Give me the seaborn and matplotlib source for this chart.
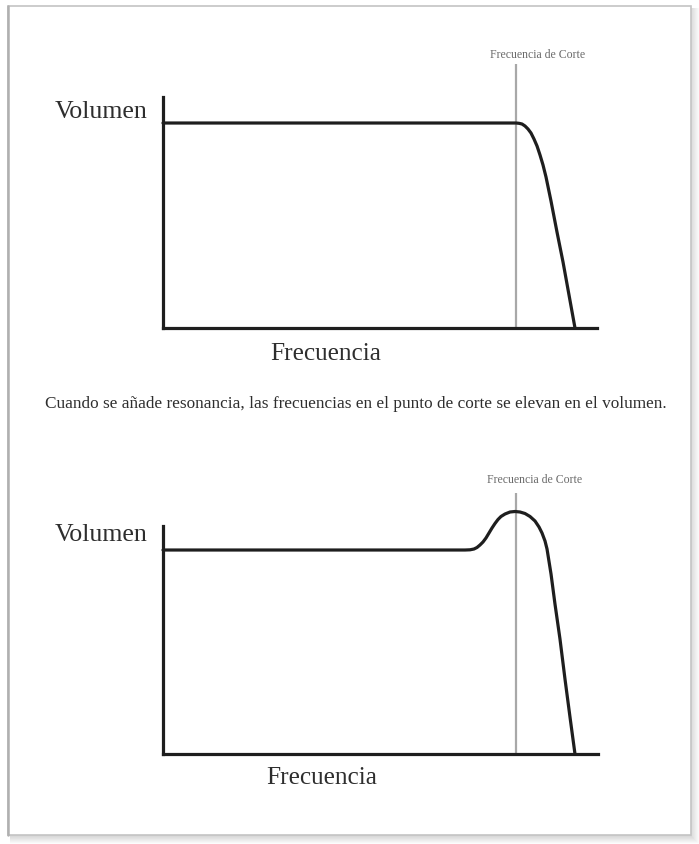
import matplotlib
matplotlib.use("Agg")
import matplotlib.pyplot as plt
from matplotlib.patches import Rectangle
import numpy as np
import pandas as pd
import seaborn as sns

# Low-pass response without resonance (frequency and volume on 0-100 scales)
freq_plain = [0, 81.34, 82.03, 82.72, 83.41, 84.10, 84.79, 85.48, 86.18, 86.87, 87.56, 88.25,
              89.40, 90.78, 92.17, 93.55, 94.93]
vol_plain = [88.74, 88.74, 88.61, 88.31, 87.45, 86.15, 84.42, 81.82, 78.79, 74.89, 70.56, 65.37,
             54.98, 41.56, 28.57, 14.29, 0]

# Low-pass response with resonance bump at the cutoff
freq_reso = [0, 69.43, 70.57, 71.49, 72.18, 72.87, 73.56, 74.25, 74.94, 75.63, 76.32, 77.01,
             77.70, 78.62, 79.77, 80.92, 82.07, 83.22, 84.37, 85.52, 86.44, 87.13, 87.82, 88.28,
             89.20, 90.11, 91.26, 92.41, 93.56, 94.71]
vol_reso = [89.47, 89.47, 89.56, 89.91, 90.57, 91.67, 92.98, 94.74, 96.93, 99.12, 101.10, 102.85,
            104.17, 105.26, 106.14, 106.36, 106.14, 105.48, 104.17, 102.19, 99.56, 96.93, 93.42, 89.91,
            78.95, 65.79, 50.44, 32.89, 16.23, 0]

cutoff_plain = 81.34
cutoff_reso = 81.2
marker_top = 114.5

y_label = "Volumen"
x_label = "Frecuencia"
cutoff_label = "Frecuencia de Corte"
caption = ("Cuando se añade resonancia, las frecuencias en el punto de corte "
           "se elevan en el volumen.")

sns.set_theme(style="white")
plt.rcParams["font.family"] = ["Liberation Serif", "DejaVu Serif"]

W, H = 699, 845
fig = plt.figure(figsize=(W / 100, H / 100), dpi=100)
fig.patch.set_facecolor("white")

# Page background with a soft drop shadow
bg = fig.add_axes([0, 0, 1, 1], zorder=-5)
bg.set_xlim(0, W)
bg.set_ylim(H, 0)
bg.axis("off")
for i in range(9):
    a = 0.11 * (1 - i / 9)
    bg.plot([10, 691 + i], [836 + i, 836 + i], color="black", alpha=a, lw=1.2, solid_capstyle="butt")
    bg.plot([691 + i, 691 + i], [9, 836 + i], color="black", alpha=a * 0.8, lw=1.2, solid_capstyle="butt")
bg.add_patch(Rectangle((8, 7), 683, 829, facecolor="white", edgecolor="#c4c4c4", lw=1.2, zorder=2))
bg.plot([8, 8], [7, 836], color="#b0b0b0", lw=1.8, zorder=3)


def px_axes(left, right, top, bottom):
    return fig.add_axes([left / W, 1 - bottom / H, (right - left) / W, (bottom - top) / H])


def draw_panel(ax, freq, vol, cutoff):
    df = pd.DataFrame({"Frecuencia": freq, "Volumen": vol})
    ax.set_xlim(0, 100)
    ax.set_ylim(0, 100)
    ax.vlines(cutoff, 0, marker_top, color="#a8a8a8", lw=1.6, clip_on=False, zorder=2)
    sns.lineplot(data=df, x="Frecuencia", y="Volumen", ax=ax, color="#1e1e1e", lw=2.3,
                 sort=False, clip_on=False, zorder=3)
    ax.lines[-1].set_solid_joinstyle("round")
    ax.set_xlabel("")
    ax.set_ylabel("")
    ax.set_xticks([])
    ax.set_yticks([])
    ax.set_facecolor("none")
    for s in ["top", "right"]:
        ax.spines[s].set_visible(False)
    for s in ["left", "bottom"]:
        ax.spines[s].set_color("#1e1e1e")
        ax.spines[s].set_linewidth(2.3)
        ax.spines[s].set_capstyle("projecting")


ax1 = px_axes(163, 597, 98, 329)
draw_panel(ax1, freq_plain, vol_plain, cutoff_plain)
ax2 = px_axes(163, 598, 527, 755)
draw_panel(ax2, freq_reso, vol_reso, cutoff_reso)


def ftext(x, y, s, size, color, **kw):
    fig.text(x / W, 1 - y / H, s, fontsize=size, color=color, ha="center", va="center", **kw)


ftext(101, 112, y_label, 18.6, "#2e2e2e")
ftext(326, 354, x_label, 18.2, "#2e2e2e")
ftext(538, 55, cutoff_label, 8.5, "#6a6a6a")

ftext(101, 535, y_label, 18.6, "#2e2e2e")
ftext(322, 778, x_label, 18.2, "#2e2e2e")
ftext(535, 480, cutoff_label, 8.5, "#6a6a6a")

ftext(356, 404, caption, 12.4, "#2e2e2e")

fig.savefig("out.png", dpi=100)
